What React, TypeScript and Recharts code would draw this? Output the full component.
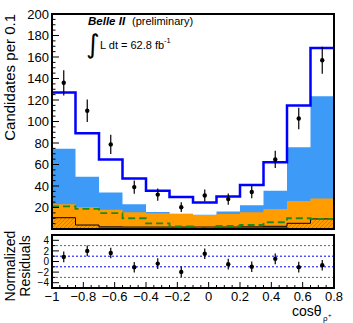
import { ComposedChart, Area, Line, Scatter, ErrorBar, XAxis, YAxis, ReferenceLine } from 'recharts';

const FONT = '"Liberation Sans", Arial, Helvetica, sans-serif';

// bin edges of the cos(theta) histogram (0.15 wide)
const binEdges = [-1, -0.85, -0.7, -0.55, -0.4, -0.25, -0.1, 0.05, 0.2, 0.35, 0.5, 0.65, 0.8];
const binCenters = [-0.925, -0.775, -0.625, -0.475, -0.325, -0.175, -0.025, 0.125, 0.275, 0.425, 0.575, 0.725];

// cumulative levels of the fit components
const totalFit = [127, 89, 64.7, 47, 35.6, 29.7, 24.6, 30.3, 41, 62, 115, 168.4];
const cyanTop = [74.7, 48.5, 34, 23, 15.8, 14.3, 13.3, 16.2, 22, 35.5, 76, 123.4];
const orangeTop = [23, 20.3, 17.8, 15.6, 14.7, 14, 13.1, 14, 15.5, 18.7, 26, 28.3];
const hatchTop = [10.5, 3.7, 2, 1.8, 1.8, 1.8, 1.8, 1.8, 2, 2.5, 5.3, 9.4];
const redTop = [0, 0, 1, 1.2, 1.2, 1.2, 1.2, 1.2, 1.2, 1.2, 0, 0];
const greenDashed = [21, 18.7, 14.7, 10, 5.3, 2.5, 1, 2.8, 3.7, 6.3, 10, 9.4];

// data points
const dataCounts = [136, 110, 78.7, 39, 32, 20.3, 31.2, 27.8, 34.4, 64.7, 102.8, 157];
const dataErrors = [11.7, 10.5, 8.9, 6.2, 5.7, 4.5, 5.6, 5.3, 5.9, 8, 10.1, 12.5];

// normalized residuals
const residuals = [0.87, 2.0, 1.6, -1.08, -0.4, -1.96, 1.45, -0.5, -1.0, 0.5, -1.07, -0.7];
const residualErrors = [1, 1, 1, 1, 1, 1, 1, 1, 1, 1, 1, 1];

const xMajorTicks = [-1, -0.8, -0.6, -0.4, -0.2, 0, 0.2, 0.4, 0.6, 0.8];
const yMajorTicks = [20, 40, 60, 80, 100, 120, 140, 160, 180, 200];
const resMajorTicks = [-4, -2, 0, 2, 4];

const xAllTicks = Array.from({ length: 37 }, (_, i) => Math.round((-1 + i * 0.05) * 100) / 100);
const yAllTicks = Array.from({ length: 40 }, (_, i) => (i + 1) * 5);
const resAllTicks = Array.from({ length: 9 }, (_, i) => i - 4);

const histRows = binEdges.map((x, i) => {
  const k = Math.min(i, binCenters.length - 1);
  return {
    x,
    total: totalFit[k],
    cyan: cyanTop[k],
    orange: orangeTop[k],
    hatch: hatchTop[k],
    red: redTop[k],
    green: greenDashed[k],
  };
});

const points = binCenters.map((x, i) => ({ x, y: dataCounts[i], err: dataErrors[i] }));
const resPoints = binCenters.map((x, i) => ({ x, y: residuals[i], err: residualErrors[i] }));

const fmt = (v: number) => (v < 0 ? '\u2212' + String(Math.abs(v)) : String(v));

const makeYTick = (majors: number[], fontSize: number, showLabels: boolean) => (props: any) => {
  const { x, y, payload } = props;
  const v = payload.value;
  const major = majors.includes(v);
  return (
    <g>
      <line x1={x} x2={x + (major ? 7 : 3.5)} y1={y} y2={y} stroke="#000" strokeWidth={1} />
      {major && showLabels && (
        <text x={x - 3} y={y} dy={fontSize * 0.36} textAnchor="end" fontSize={fontSize} fontFamily={FONT} fill="#000">
          {fmt(v)}
        </text>
      )}
    </g>
  );
};

const makeXTick = (showLabels: boolean, len: number) => (props: any) => {
  const { x, y, payload } = props;
  const v = payload.value;
  const major = xMajorTicks.some((m) => Math.abs(m - v) < 1e-6);
  return (
    <g>
      <line x1={x} x2={x} y1={y} y2={y - (major ? len : len / 2)} stroke="#000" strokeWidth={1} />
      {major && showLabels && (
        <text x={x} y={y + 12.5} textAnchor="middle" fontSize={13} fontFamily={FONT} fill="#000">
          {fmt(v)}
        </text>
      )}
    </g>
  );
};

const dot = (props: any) => <circle cx={props.cx} cy={props.cy} r={2.2} fill="#000" />;

const frame = (left: number, top: number, width: number, height: number) => (
  <div
    style={{
      position: 'absolute',
      left,
      top,
      width,
      height,
      border: '2px solid #000',
      boxSizing: 'border-box',
      pointerEvents: 'none',
    }}
  />
);

export default function App() {
  return (
    <div style={{ position: 'absolute', left: 0, top: 0, width: 353, height: 323, background: '#fff', overflow: 'hidden' }}>
      <div style={{ position: 'absolute', left: 0, top: 0 }}>
        <ComposedChart width={353} height={233} data={histRows} margin={{ top: 14, right: 19, bottom: 4, left: 0 }}>
          <XAxis
            dataKey="x"
            type="number"
            domain={[-1, 0.8]}
            ticks={xAllTicks}
            interval={0}
            height={0}
            tickSize={0}
            tickMargin={0}
            tickLine={false}
            axisLine={false}
            tick={makeXTick(false, 7)}
            allowDataOverflow
          />
          <YAxis
            type="number"
            domain={[0, 200]}
            ticks={yAllTicks}
            interval={0}
            width={52}
            tickSize={0}
            tickMargin={0}
            tickLine={false}
            axisLine={false}
            tick={makeYTick(yMajorTicks, 13, true)}
            allowDataOverflow
          />
          <Area type="stepAfter" dataKey="cyan" stroke="none" fill="#3d9bf7" fillOpacity={1} isAnimationActive={false} />
          <Area type="stepAfter" dataKey="orange" stroke="none" fill="#ff9d00" fillOpacity={1} isAnimationActive={false} />
          <Area type="stepAfter" dataKey="hatch" stroke="#000" strokeWidth={1} fill="url(#hatch)" fillOpacity={1} isAnimationActive={false} />
          <Area type="stepAfter" dataKey="red" stroke="#ff0000" strokeWidth={1.5} fill="#ff0000" fillOpacity={1} isAnimationActive={false} />
          <Line type="stepAfter" dataKey="green" stroke="#1e8a1e" strokeWidth={1.8} strokeDasharray="7 4" dot={false} isAnimationActive={false} />
          <Line type="stepAfter" dataKey="total" stroke="#0000ff" strokeWidth={2.5} dot={false} isAnimationActive={false} />
          <Scatter data={points} dataKey="y" shape={dot} isAnimationActive={false}>
            <ErrorBar dataKey="err" direction="y" width={0} stroke="#000" strokeWidth={1.2} isAnimationActive={false} />
          </Scatter>
        </ComposedChart>
      </div>
      {frame(51, 13, 284, 217)}

      <div style={{ position: 'absolute', left: 0, top: 230 }}>
        <ComposedChart width={353} height={93} margin={{ top: 5, right: 19, bottom: 15, left: 0 }}>
          <XAxis
            dataKey="x"
            type="number"
            domain={[-1, 0.8]}
            ticks={xAllTicks}
            interval={0}
            height={20}
            tickSize={0}
            tickMargin={0}
            tickLine={false}
            axisLine={false}
            tick={makeXTick(true, 6)}
            allowDataOverflow
          />
          <YAxis
            type="number"
            domain={[-5, 5]}
            ticks={resAllTicks}
            interval={0}
            width={52}
            tickSize={0}
            tickMargin={0}
            tickLine={false}
            axisLine={false}
            tick={makeYTick(resMajorTicks, 10, true)}
            allowDataOverflow
          />
          <ReferenceLine y={3} stroke="#2e8b2e" strokeDasharray="2 2" strokeWidth={1} />
          <ReferenceLine y={-3} stroke="#2e8b2e" strokeDasharray="2 2" strokeWidth={1} />
          <ReferenceLine y={1} stroke="#0000ff" strokeDasharray="2 2" strokeWidth={1} />
          <ReferenceLine y={-1} stroke="#0000ff" strokeDasharray="2 2" strokeWidth={1} />
          <Scatter data={resPoints} dataKey="y" shape={dot} isAnimationActive={false}>
            <ErrorBar dataKey="err" direction="y" width={0} stroke="#000" strokeWidth={1.2} isAnimationActive={false} />
          </Scatter>
        </ComposedChart>
      </div>
      {frame(51, 234, 284, 55)}

      <svg width={353} height={323} style={{ position: 'absolute', left: 0, top: 0, pointerEvents: 'none' }}>
        <defs>
          <pattern id="hatch" patternUnits="userSpaceOnUse" width={4} height={4}>
            <rect width={4} height={4} fill="#ff9d00" />
            <path d="M-1,1 L1,-1 M0,4 L4,0 M3,5 L5,3" stroke="#c96a00" strokeWidth={0.7} />
          </pattern>
        </defs>
        <g fontFamily={FONT} fill="#000">
          <text x={15} y={14} fontSize={15} textAnchor="end" transform="rotate(-90 15 14)">
            Candidates per 0.1
          </text>
          <text x={15} y={266} fontSize={14} textAnchor="middle" transform="rotate(-90 15 266)">
            Normalized
          </text>
          <text x={30} y={266} fontSize={14} textAnchor="middle" transform="rotate(-90 30 266)">
            Residuals
          </text>
          <text x={88} y={25} fontSize={11.5} fontWeight="bold" fontStyle="italic">
            Belle II
          </text>
          <text x={132} y={25} fontSize={11}>
            (preliminary)
          </text>
          <text x={86} y={53} fontSize={26} fontFamily="DejaVu Sans">
            {'\u222B'}
          </text>
          <text x={100} y={49} fontSize={11}>
            L dt = 62.8 fb
          </text>
          <text x={164} y={43} fontSize={7.5}>
            -1
          </text>
          <text x={292} y={316} fontSize={14}>
            cos{'\u03B8'}
          </text>
          <text x={323} y={321} fontSize={8}>
            {'\u03C1'}
          </text>
          <text x={328} y={317} fontSize={6}>
            +
          </text>
        </g>
      </svg>
    </div>
  );
}
